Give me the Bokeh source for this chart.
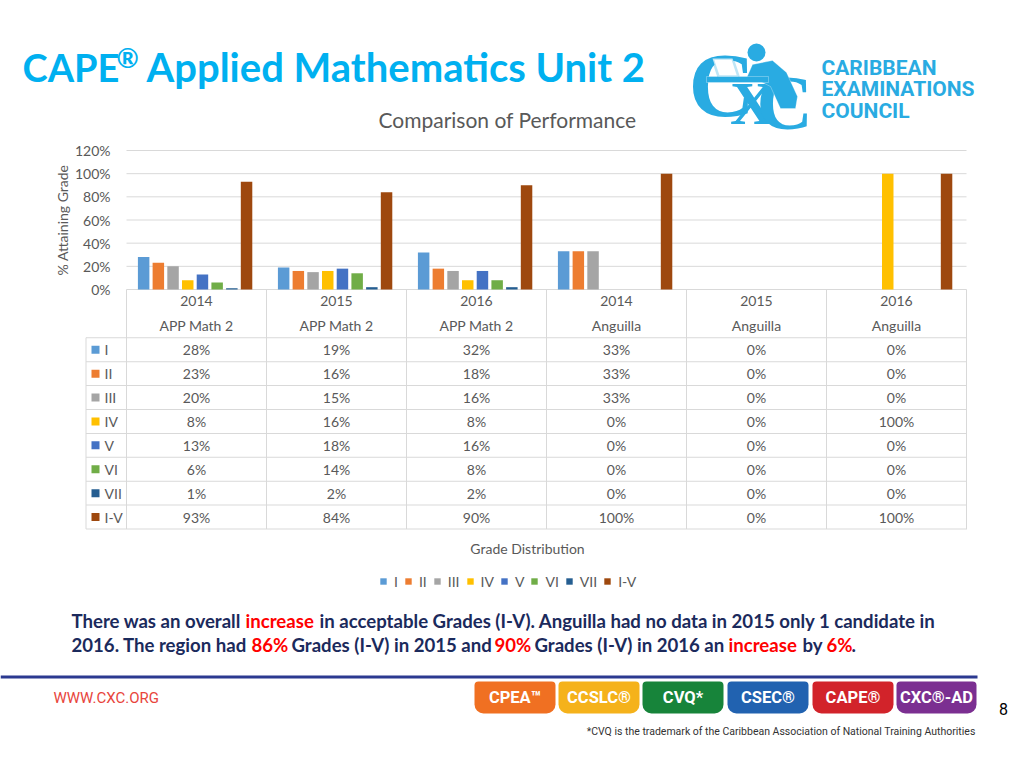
import math
from bokeh.plotting import figure
from bokeh.models import (ColumnDataSource, Range1d, Label, LabelSet, BoxAnnotation, PolyAnnotation,
                          Legend, LegendItem)
from bokeh.transform import dodge
from bokeh.core.properties import value
from bokeh.embed import file_html
from bokeh.resources import INLINE

# ---------------- data ----------------
years = ["2014", "2015", "2016", "2014", "2015", "2016"]
groups = ["APP Math 2", "APP Math 2", "APP Math 2", "Anguilla", "Anguilla", "Anguilla"]
categories = [f"{y} {g}" for y, g in zip(years, groups)]
series_names = ["I", "II", "III", "IV", "V", "VI", "VII", "I-V"]
grade_I = [28, 19, 32, 33, 0, 0]
grade_II = [23, 16, 18, 33, 0, 0]
grade_III = [20, 15, 16, 33, 0, 0]
grade_IV = [8, 16, 8, 0, 0, 100]
grade_V = [13, 18, 16, 0, 0, 0]
grade_VI = [6, 14, 8, 0, 0, 0]
grade_VII = [1, 2, 2, 0, 0, 0]
grade_I_V = [93, 84, 90, 100, 0, 100]
series_values = [grade_I, grade_II, grade_III, grade_IV, grade_V, grade_VI, grade_VII, grade_I_V]
series_colors = ["#5B9BD5", "#ED7D31", "#A5A5A5", "#FFC000", "#4472C4", "#70AD47", "#255E91", "#9E480E"]
y_ticks = [0, 0.2, 0.4, 0.6, 0.8, 1.0, 1.2]
y_tick_labels = ["0%", "20%", "40%", "60%", "80%", "100%", "120%"]

title_text = "Applied Mathematics Unit 2"
chart_title = "Comparison of Performance"
x_title = "Grade Distribution"
y_title = "% Attaining Grade"

# ---------------- page geometry (page pixels) ----------------
W, H = 1024, 768
FL, FR, FT, FB = 126, 966, 150, 289      # plot area of the bar chart
TXT = "#595959"
GRID = "#D9D9D9"
FONT = "Lato"
n_cat = len(categories)
cat_x = [i + 0.5 for i in range(n_cat)]
col_px = (FR - FL) / n_cat
ppu = (FB - FT) / 1.2

p = figure(width=W, height=H, x_range=Range1d(0, W), y_range=Range1d(H, 0),
           output_backend="svg", toolbar_location=None,
           x_axis_location=None, y_axis_location=None, min_border=0)
p.grid.visible = False
p.outline_line_color = None
p.border_fill_color = "white"
# chart scales: categories along x, share (0..1.2) along y
p.extra_x_ranges = {"cx": Range1d(-FL / col_px, (W - FL) / col_px)}
p.extra_y_ranges = {"cy": Range1d(-(H - FB) / ppu, FB / ppu)}


def box(l, r, t, b, color, alpha=1.0, radius=None, line=None, lw=1):
    kw = dict(left=l, right=r, top=t, bottom=b, fill_color=color, fill_alpha=alpha,
              line_color=line, line_width=lw)
    if line is None:
        kw["line_alpha"] = 0
    if radius is not None:
        kw["border_radius"] = radius
    p.add_layout(BoxAnnotation(**kw))


def lab(text, x, y, size, color=TXT, font=FONT, style="normal", align="left", baseline="middle",
        angle=0.0):
    p.add_layout(Label(x=x, y=y, text=text, text_font=font, text_font_size=f"{size}px",
                       text_font_style=style, text_color=color, text_align=align,
                       text_baseline=baseline, angle=angle))


# ======================= header =======================
BLUE = "#00B0F0"
lab("CAPE", 22, 66, 38, BLUE, style="bold")
lab("\u00ae", 116, 57, 27, BLUE, style="bold")
lab(title_text, 146, 66, 40, BLUE, style="bold")
lab(chart_title, 507, 119, 21, align="center")

LB = "#29ABE2"
lab("C", 688, 84, 92, LB, font="Liberation Serif", style="bold")
lab("X", 752, 102, 62, LB, font="Liberation Serif", style="bold", align="center")
lab("C", 756, 102, 78, LB, font="Liberation Serif", style="bold")
box(747, 765, 43, 61, LB, radius=9)
p.add_layout(PolyAnnotation(xs=[752, 772, 786, 797, 795, 780, 770, 758, 745],
                            ys=[64, 60, 72, 96, 108, 108, 86, 80, 80],
                            fill_color=LB, fill_alpha=1, line_color="white", line_width=1))
box(706, 768, 76, 82, LB, line="white")
p.add_layout(PolyAnnotation(xs=[712, 732, 738, 718], ys=[58, 58, 76, 76],
                            fill_color="white", fill_alpha=1, line_color=LB, line_width=2.5))
lab("CARIBBEAN", 821, 67, 21, LB, font="Roboto", style="bold")
lab("EXAMINATIONS", 821, 88.5, 21, LB, font="Roboto", style="bold")
lab("COUNCIL", 821, 110, 21, LB, font="Roboto", style="bold")

# ======================= bar chart =======================
n_t = len(y_ticks)
p.segment(x0=[0] * n_t, x1=[n_cat] * n_t, y0=y_ticks, y1=y_ticks, x_range_name="cx",
          y_range_name="cy", line_color=GRID, line_width=1)
p.add_layout(LabelSet(x="x", y="y", text="t", y_range_name="cy",
                      source=ColumnDataSource(dict(x=[FL - 16] * n_t, y=y_ticks, t=y_tick_labels)),
                      text_align="right", text_baseline="middle", text_font=value(FONT),
                      text_font_size="14px", text_color=TXT))
lab(y_title, 62, (FT + FB) / 2, 14, align="center", angle=math.pi / 2)

data = {"cat": categories, "xc": cat_x}
for i, vals in enumerate(series_values):
    data[f"s{i}"] = [v / 100 for v in vals]
src = ColumnDataSource(data)
pitch = 0.105
bar_w = 0.082
renderers = []
for i, col in enumerate(series_colors):
    r = p.vbar(x=dodge("xc", (i - 3.5) * pitch - 0.01), top=f"s{i}", width=bar_w, source=src,
               x_range_name="cx", y_range_name="cy", fill_color=col, line_color=None)
    renderers.append(r)

# ======================= data table =======================
row_top = 337.3
row_h = 23.9
n_rows = len(series_names)
table_bottom = row_top + row_h * n_rows
for k in range(n_rows + 1):
    y = row_top + row_h * k
    box(85.5, FR + 0.5, y - 0.5, y + 0.5, GRID)
bounds = list(range(n_cat + 1))
p.segment(x0=bounds, x1=bounds, y0=[FB] * len(bounds), y1=[table_bottom] * len(bounds),
          x_range_name="cx", line_color=GRID, line_width=1)
box(85, 86, row_top, table_bottom, GRID)

hdr = ColumnDataSource(dict(x=cat_x + cat_x, y=[300.5] * n_cat + [325] * n_cat, t=years + groups))
p.add_layout(LabelSet(x="x", y="y", text="t", source=hdr, x_range_name="cx", text_align="center",
                      text_baseline="middle", text_font=value(FONT), text_font_size="14px",
                      text_color=TXT))
cx, cy, ct = [], [], []
for r, vals in enumerate(series_values):
    yc = row_top + row_h * (r + 0.5)
    for c, v in zip(cat_x, vals):
        cx.append(c)
        cy.append(yc)
        ct.append(f"{v}%")
    box(91, 99, yc - 4, yc + 4, series_colors[r])
    lab(series_names[r], 104, yc, 14)
p.add_layout(LabelSet(x="x", y="y", text="t", source=ColumnDataSource(dict(x=cx, y=cy, t=ct)),
                      x_range_name="cx", text_align="center", text_baseline="middle",
                      text_font=value(FONT), text_font_size="14px", text_color=TXT))

lab(x_title, 527, 548, 14, align="center")

legend = Legend(items=[LegendItem(label=n, renderers=[r]) for n, r in zip(series_names, renderers)],
                orientation="horizontal", location=(379, H - 589.7),
                glyph_width=8, glyph_height=8, label_standoff=7, spacing=6, padding=0, margin=0,
                label_width=0, label_height=16, label_text_font=FONT, label_text_font_size="14px",
                label_text_color=TXT, border_line_color=None, background_fill_alpha=0)
p.add_layout(legend)

# ======================= commentary =======================
NAVY = "#1B2A5C"
RED = "#FF0000"
line1 = [("There was an overall", 71, NAVY), ("increase", 245, RED),
         ("in acceptable Grades (I-V). Anguilla had no data in 2015 only 1 candidate in", 319, NAVY)]
line2 = [("2016. The region had", 71, NAVY), ("86%", 251, RED), ("Grades (I-V) in 2015 and", 291, NAVY),
         ("90%", 494, RED), ("Grades (I-V) in 2016 an", 534, NAVY), ("increase", 728, RED),
         ("by", 802, NAVY), ("6%", 826, RED), (".", 851, NAVY)]
for t, x, c in line1:
    lab(t, x, 620.5, 18.6, c, style="bold")
for t, x, c in line2:
    lab(t, x, 644.5, 18.6, c, style="bold")

# ======================= footer =======================
box(0, 977, 675, 678, "#2B3990")
lab("WWW.CXC.ORG", 53, 697, 15, "#E8453C", font="Roboto")
badges = [("CPEA\u2122", 474, 555, "#F07022"), ("CCSLC\u00ae", 558, 639, "#F5B21B"),
          ("CVQ*", 642, 723, "#17843A"), ("CSEC\u00ae", 727, 808, "#2162B0"),
          ("CAPE\u00ae", 812, 893, "#D2232A"), ("CXC\u00ae-AD", 896, 976, "#7B2F91")]
for t, l, r, c in badges:
    box(l, r, 681, 713, c, radius=(4, 4, 9, 9))
    lab(t, (l + r) / 2, 697, 16.5, "white", font="Roboto", style="bold", align="center")
lab("8", 1003, 708, 16, "#000000", font="Roboto", align="center")
lab("*CVQ is the trademark of the Caribbean Association of National Training Authorities",
    975, 731, 10.5, "#333333", font="Roboto", align="right")

open("out.html", "w").write(file_html(p, INLINE))
